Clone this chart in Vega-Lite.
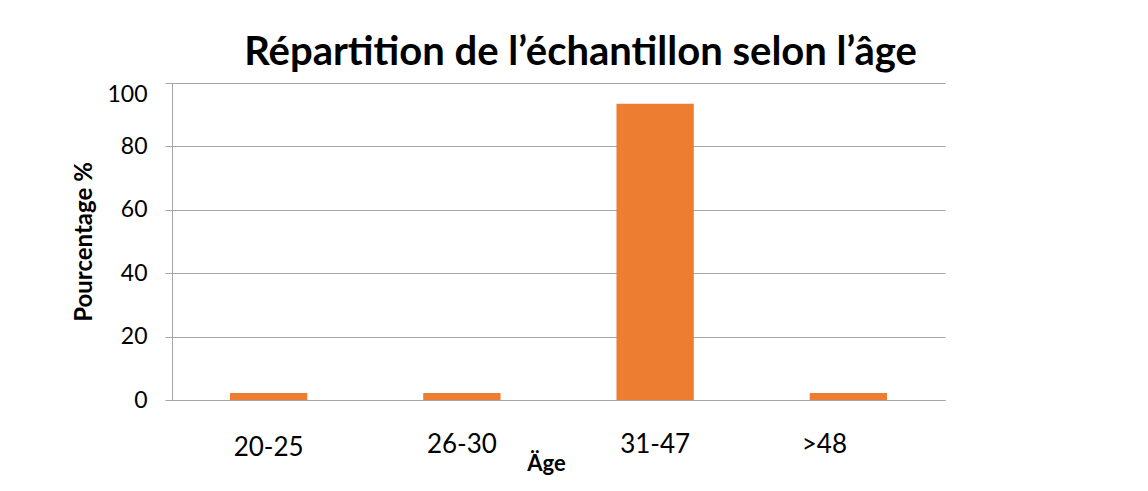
{
  "$schema": "https://vega.github.io/schema/vega-lite/v6.json",
  "autosize": "none",
  "width": 773,
  "height": 317,
  "padding": {"left": 172, "top": 83, "right": 203, "bottom": 91},
  "background": "white",
  "config": {
    "view": {"stroke": null},
    "font": "Lato"
  },
  "title": {
    "text": "Répartition de l’échantillon selon l’âge",
    "font": "Lato",
    "fontSize": 40,
    "fontWeight": "bold",
    "color": "#000000",
    "anchor": "middle",
    "baseline": "alphabetic",
    "offset": 16,
    "dx": 22,
    "dy": 38
  },
  "data": {
    "values": [
      {"age": "20-25", "pct": 2.17},
      {"age": "26-30", "pct": 2.17},
      {"age": "31-47", "pct": 93.48},
      {"age": ">48", "pct": 2.17}
    ]
  },
  "mark": {"type": "bar", "color": "#ED7D31"},
  "encoding": {
    "x": {
      "field": "age",
      "type": "nominal",
      "sort": null,
      "scale": {"paddingInner": 0.6, "paddingOuter": 0.3},
      "axis": {
        "title": "Äge",
        "titleFont": "Lato",
        "titleFontSize": 22,
        "titleFontWeight": "bold",
        "titleColor": "#000000",
        "titleBaseline": "alphabetic",
        "titleAlign": "center",
        "titleX": 374,
        "titleY": 70,
        "labelAngle": 0,
        "labelFont": "Lato",
        "labelFontSize": 26,
        "labelColor": "#000000",
        "labelBaseline": "top",
        "labelPadding": {"condition": {"test": "datum.value == '20-25'", "value": 34}, "value": 31},
        "labelOffset": {"condition": {"test": "datum.value == '>48'", "value": -24}, "value": 0},
        "ticks": false,
        "domainColor": "#a6a6a6",
        "domainWidth": 1,
        "grid": false
      }
    },
    "y": {
      "field": "pct",
      "type": "quantitative",
      "scale": {"domain": [0, 100], "nice": false},
      "axis": {
        "title": "Pourcentage %",
        "titleFont": "Lato",
        "titleFontSize": 24,
        "titleFontWeight": "bold",
        "titleColor": "#000000",
        "titleBaseline": "alphabetic",
        "titleX": -81,
        "values": [0, 20, 40, 60, 80, 100],
        "labelFont": "Lato",
        "labelFontSize": 23,
        "labelColor": "#000000",
        "labelPadding": 18,
        "labelFlush": false,
        "labelOffset": {"condition": {"test": "datum.value == 100", "value": 11}, "value": 0},
        "tickSize": 7,
        "tickColor": "#a6a6a6",
        "domainColor": "#a6a6a6",
        "gridColor": "#a6a6a6",
        "gridWidth": 1,
        "grid": true
      }
    }
  }
}
